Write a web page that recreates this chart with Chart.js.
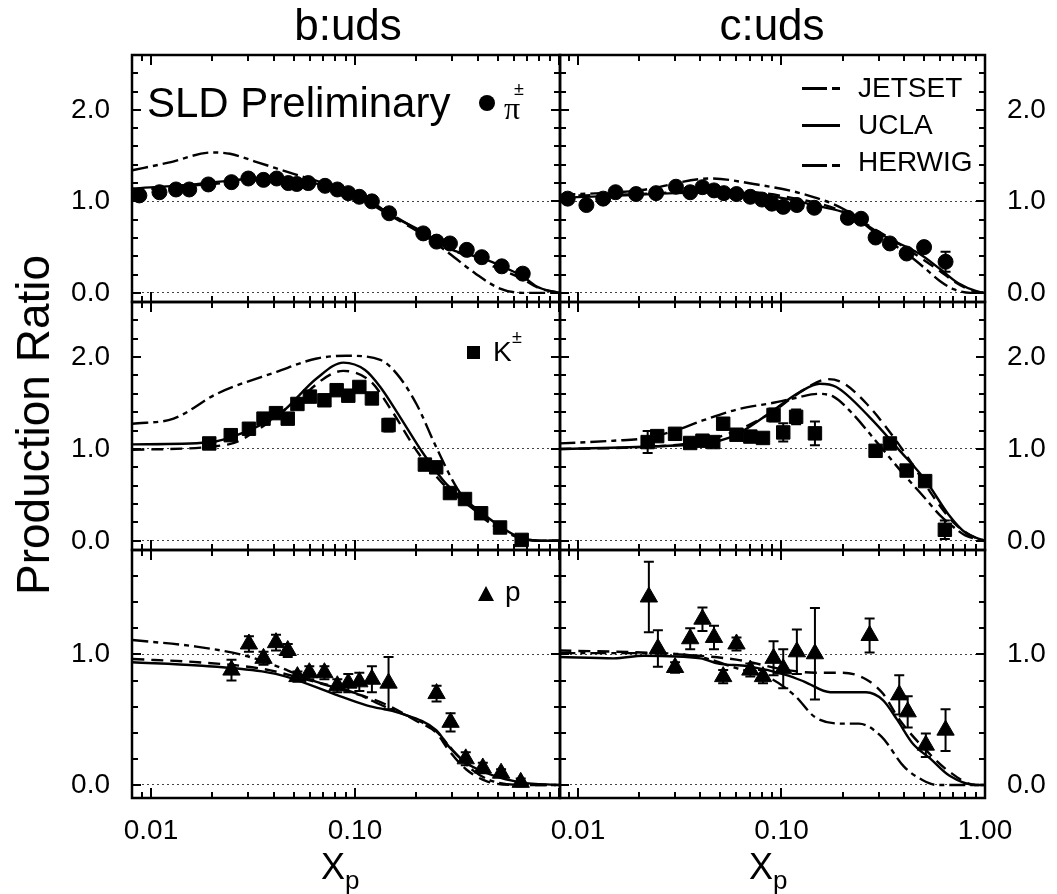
<!DOCTYPE html>
<html>
<head>
<meta charset="utf-8">
<script src="https://cdn.jsdelivr.net/npm/chart.js@4.4.0/dist/chart.umd.min.js"></script>
<style>
  body { margin: 0; background: #fff; }
  #wrap { position: relative; width: 1057px; height: 894px; overflow: hidden;
          font-family: 'Liberation Sans', Arial, sans-serif; color: #000; }
  #wrap canvas { position: absolute; left: 0; top: 0; }
  .txt { position: absolute; white-space: nowrap; line-height: 1; }
  .mk { position: absolute; background: #000; }
</style>
</head>
<body>
<div id="wrap">
  <canvas id="c0" width="1057" height="894"></canvas>
  <canvas id="c1" width="1057" height="894"></canvas>
  <canvas id="c2" width="1057" height="894"></canvas>
  <canvas id="c3" width="1057" height="894"></canvas>
  <canvas id="c4" width="1057" height="894"></canvas>
  <canvas id="c5" width="1057" height="894"></canvas>

  <div class="txt" style="left:348px;top:3px;font-size:44px;transform:translateX(-50%)">b:uds</div>
  <div class="txt" style="left:772px;top:3px;font-size:44px;transform:translateX(-50%)">c:uds</div>
  <div class="txt" style="left:33px;top:425px;font-size:46px;transform:translate(-50%,-50%) rotate(-90deg)">Production Ratio</div>
  <div class="txt" style="left:321px;top:849px;font-size:36px">X<span style="font-size:26px;position:relative;top:10px">p</span></div>
  <div class="txt" style="left:749px;top:849px;font-size:36px">X<span style="font-size:26px;position:relative;top:10px">p</span></div>

  <!-- panel labels -->
  <div class="txt" style="left:147px;top:82px;font-size:42px">SLD Preliminary</div>
  <div class="mk" style="left:479px;top:95px;width:16px;height:16px;border-radius:50%"></div>
  <div class="txt" style="left:504px;top:92px;font-size:32px;font-family:'Liberation Serif',serif">&pi;</div>
  <div class="txt" style="left:514px;top:80px;font-size:18px">&plusmn;</div>

  <div class="mk" style="left:467px;top:346px;width:13px;height:13px"></div>
  <div class="txt" style="left:493px;top:338px;font-size:28px">K</div>
  <div class="txt" style="left:512px;top:328px;font-size:18px">&plusmn;</div>

  <div style="position:absolute;left:478px;top:586px;width:0;height:0;border-left:8.5px solid transparent;border-right:8.5px solid transparent;border-bottom:15px solid #000"></div>
  <div class="txt" style="left:505px;top:578px;font-size:28px">p</div>

  <!-- legend -->
  <div class="mk" style="left:802px;top:87px;width:25px;height:3px"></div>
  <div class="mk" style="left:832px;top:87px;width:8px;height:3px"></div>
  <div class="txt" style="left:858px;top:74px;font-size:28px">JETSET</div>
  <div class="mk" style="left:802px;top:124px;width:38px;height:3px"></div>
  <div class="txt" style="left:858px;top:111px;font-size:28px">UCLA</div>
  <div class="mk" style="left:802px;top:164px;width:25px;height:3px"></div>
  <div class="mk" style="left:832px;top:164px;width:8px;height:3px"></div>
  <div class="txt" style="left:858px;top:148px;font-size:28px">HERWIG</div>
</div>

<script>
// ---- measured points: pi, K, p in b and c events ----
const xPiB = [0.00877,0.0110,0.01326,0.0154,0.0191,0.0248,0.0300,0.0356,0.0413,0.0471,0.0518,0.0590,0.0713,0.0819,0.0927,0.105,0.121,0.147,0.216,0.251,0.292,0.353,0.418,0.524,0.664];
const yPiB = [1.065,1.10,1.13,1.13,1.185,1.21,1.25,1.235,1.25,1.20,1.19,1.20,1.17,1.13,1.09,1.05,1.00,0.87,0.65,0.56,0.54,0.47,0.39,0.29,0.21];
const ePiB = [0.02,0.02,0.02,0.02,0.02,0.02,0.02,0.02,0.02,0.02,0.02,0.02,0.02,0.02,0.02,0.02,0.02,0.02,0.02,0.02,0.02,0.02,0.02,0.03,0.03];

const xPiC = [0.0089,0.0110,0.0133,0.0153,0.0193,0.0242,0.0303,0.0356,0.0409,0.0466,0.0521,0.0601,0.0703,0.0802,0.0897,0.102,0.119,0.145,0.212,0.246,0.290,0.341,0.412,0.502,0.640];
const yPiC = [1.03,0.96,1.03,1.10,1.08,1.09,1.16,1.10,1.155,1.12,1.09,1.08,1.05,1.02,0.975,0.94,0.96,0.93,0.82,0.81,0.605,0.54,0.43,0.50,0.34];
const ePiC = [0.02,0.02,0.02,0.02,0.02,0.02,0.02,0.02,0.02,0.02,0.02,0.02,0.02,0.02,0.02,0.02,0.02,0.02,0.03,0.03,0.03,0.03,0.04,0.05,0.11];

const xKB = [0.0193,0.0246,0.0302,0.0356,0.0410,0.0468,0.0522,0.0601,0.0708,0.0813,0.0927,0.105,0.121,0.146,0.220,0.250,0.292,0.346,0.415,0.514,0.656];
const yKB = [1.06,1.15,1.22,1.33,1.39,1.33,1.49,1.57,1.53,1.64,1.58,1.675,1.55,1.26,0.83,0.80,0.52,0.455,0.30,0.145,0.01];
const eKB = [0.04,0.04,0.04,0.04,0.04,0.04,0.04,0.04,0.04,0.04,0.04,0.04,0.04,0.07,0.03,0.03,0.03,0.03,0.03,0.03,0.03];

const xKC = [0.0220,0.0245,0.0300,0.0356,0.0409,0.0462,0.0517,0.0601,0.0703,0.0811,0.0914,0.102,0.118,0.146,0.290,0.341,0.412,0.508,0.635];
const yKC = [1.075,1.14,1.165,1.065,1.09,1.075,1.275,1.155,1.135,1.12,1.37,1.18,1.35,1.17,0.98,1.06,0.765,0.65,0.12];
const eKC = [0.12,0.04,0.04,0.04,0.04,0.04,0.06,0.04,0.04,0.04,0.07,0.10,0.08,0.13,0.05,0.05,0.05,0.05,0.10];

const xPB = [0.0248,0.0302,0.0356,0.0410,0.0468,0.0522,0.0597,0.0708,0.0819,0.0927,0.105,0.121,0.146,0.251,0.294,0.349,0.423,0.520,0.649];
const yPB = [0.88,1.08,0.97,1.09,1.03,0.83,0.86,0.86,0.76,0.78,0.79,0.81,0.78,0.70,0.48,0.20,0.13,0.09,0.02];
const ePB = [0.08,0.06,0.05,0.06,0.05,0.04,0.05,0.05,0.05,0.07,0.07,0.10,0.20,0.06,0.07,0.05,0.04,0.03,0.03];

const xPC = [0.0223,0.0247,0.0300,0.0356,0.0409,0.0466,0.0517,0.0601,0.0703,0.0811,0.0914,0.102,0.119,0.146,0.271,0.379,0.417,0.512,0.640];
const yPC = [1.44,1.045,0.90,1.12,1.27,1.13,0.83,1.08,0.88,0.83,0.97,0.89,1.02,1.005,1.145,0.69,0.56,0.305,0.42];
const ePC = [0.27,0.14,0.04,0.08,0.09,0.09,0.05,0.05,0.05,0.05,0.13,0.15,0.17,0.35,0.13,0.15,0.12,0.09,0.16];

// ---- model curves [xp, ratio] ----
const jetsetPiB = [[0.0081,1.34],[0.012,1.42],[0.0202,1.535],[0.0244,1.52],[0.033,1.43],[0.05,1.3],[0.07,1.2],[0.1,1.06],[0.15,0.86],[0.2,0.69],[0.29,0.43],[0.39,0.21],[0.51,0.05],[0.66,0.0],[1.01,0.0]];
const uclaPiB   = [[0.0081,1.14],[0.015,1.18],[0.025,1.23],[0.04,1.26],[0.06,1.21],[0.09,1.1],[0.12,1.0],[0.147,0.86],[0.208,0.685],[0.3,0.47],[0.42,0.38],[0.55,0.27],[0.664,0.18],[0.778,0.07],[0.9,0.02],[1.01,0.0]];
const herwigPiB = [[0.0081,1.12],[0.02,1.19],[0.04,1.24],[0.06,1.2],[0.1,1.06],[0.15,0.84],[0.2,0.68],[0.3,0.47],[0.4,0.36],[0.5,0.27],[0.65,0.16],[0.8,0.05],[1.01,0.0]];

const jetsetPiC = [[0.0081,1.07],[0.02,1.12],[0.0449,1.25],[0.073,1.19],[0.128,1.08],[0.208,0.9],[0.3,0.63],[0.4,0.45],[0.5,0.28],[0.6,0.13],[0.7,0.04],[0.85,0.0],[1.0,0.0]];
const uclaPiC   = [[0.0081,1.04],[0.015,1.06],[0.03,1.09],[0.05,1.1],[0.08,1.07],[0.105,1.03],[0.15,0.95],[0.208,0.87],[0.326,0.61],[0.474,0.43],[0.61,0.25],[0.74,0.105],[0.93,0.01],[1.0,0.0]];
const herwigPiC = [[0.0081,1.06],[0.02,1.08],[0.05,1.12],[0.1,1.06],[0.2,0.89],[0.3,0.67],[0.4,0.5],[0.5,0.36],[0.6,0.24],[0.7,0.13],[0.85,0.03],[1.0,0.0]];

const jetsetKB = [[0.0081,1.275],[0.0129,1.33],[0.021,1.6],[0.0413,1.84],[0.065,1.985],[0.091,2.015],[0.133,1.97],[0.16,1.82],[0.2,1.49],[0.25,1.02],[0.315,0.58],[0.4,0.3],[0.5,0.14],[0.65,0.03],[0.85,0.0],[1.01,0.0]];
const uclaKB   = [[0.0081,1.05],[0.019,1.07],[0.03,1.2],[0.043,1.385],[0.065,1.77],[0.0877,1.94],[0.112,1.86],[0.133,1.675],[0.166,1.35],[0.216,0.95],[0.28,0.62],[0.41,0.32],[0.52,0.15],[0.65,0.03],[0.82,0.0],[1.01,0.0]];
const herwigKB = [[0.0081,0.99],[0.024,1.05],[0.034,1.22],[0.05,1.5],[0.0877,1.85],[0.12,1.73],[0.15,1.43],[0.205,0.95],[0.27,0.62],[0.4,0.31],[0.52,0.14],[0.65,0.03],[0.82,0.0],[1.01,0.0]];

const jetsetKC = [[0.0081,1.06],[0.015,1.09],[0.022,1.12],[0.03,1.2],[0.041,1.31],[0.063,1.44],[0.09,1.5],[0.12,1.56],[0.15,1.6],[0.18,1.57],[0.22,1.4],[0.3,1.05],[0.4,0.72],[0.5,0.48],[0.6,0.28],[0.7,0.15],[0.8,0.06],[1.0,0.0]];
const uclaKC   = [[0.0081,1.0],[0.024,1.03],[0.045,1.07],[0.055,1.12],[0.065,1.2],[0.091,1.42],[0.123,1.62],[0.154,1.71],[0.186,1.675],[0.27,1.35],[0.38,0.985],[0.51,0.66],[0.66,0.29],[0.8,0.09],[1.0,0.0]];
const herwigKC = [[0.0081,1.0],[0.02,1.02],[0.04,1.08],[0.06,1.2],[0.09,1.4],[0.12,1.6],[0.17,1.76],[0.2,1.72],[0.26,1.5],[0.35,1.15],[0.45,0.8],[0.55,0.5],[0.7,0.2],[0.85,0.06],[1.0,0.0]];

const jetsetPB = [[0.0081,1.11],[0.0167,1.06],[0.029,0.99],[0.043,0.9],[0.062,0.8],[0.098,0.71],[0.14,0.6],[0.2,0.5],[0.25,0.41],[0.3,0.27],[0.38,0.11],[0.47,0.03],[0.7,0.0],[1.01,0.0]];
const uclaPB   = [[0.0081,0.94],[0.017,0.915],[0.035,0.87],[0.046,0.83],[0.078,0.7],[0.114,0.61],[0.166,0.55],[0.25,0.42],[0.29,0.29],[0.35,0.17],[0.47,0.075],[0.65,0.02],[1.01,0.0]];
const herwigPB = [[0.0081,0.965],[0.017,0.94],[0.035,0.89],[0.054,0.82],[0.078,0.75],[0.14,0.62],[0.2,0.49],[0.25,0.4],[0.29,0.26],[0.35,0.12],[0.44,0.03],[0.6,0.0],[1.01,0.0]];

const jetsetPC = [[0.0081,1.01],[0.024,1.01],[0.04,0.98],[0.06,0.895],[0.09,0.81],[0.117,0.68],[0.146,0.52],[0.2,0.47],[0.24,0.47],[0.31,0.37],[0.4,0.14],[0.49,0.04],[0.58,0.0],[1.0,0.0]];
const uclaPC   = [[0.0081,0.98],[0.015,0.97],[0.021,0.99],[0.04,0.97],[0.049,0.93],[0.068,0.91],[0.107,0.84],[0.13,0.79],[0.174,0.71],[0.26,0.71],[0.315,0.65],[0.37,0.5],[0.44,0.32],[0.54,0.2],[0.67,0.07],[0.9,0.0],[1.0,0.0]];
const herwigPC = [[0.0081,1.03],[0.024,1.01],[0.06,0.96],[0.107,0.88],[0.146,0.86],[0.2,0.86],[0.26,0.81],[0.315,0.7],[0.38,0.5],[0.51,0.27],[0.67,0.1],[0.9,0.0],[1.0,0.0]];

// tick labels
const yTicksTall = [0, 1, 2];
const yTicksShort = [0, 1];
const xTicksLeft = [0.01, 0.1];
const xTicksRight = [0.01, 0.1, 1];

const FONT = "'Liberation Sans', Arial, sans-serif";
const W = 1057, H = 894;
const cols = [[132, 560], [560, 985]];
const rows = [[55, 302], [302, 550], [550, 798]];
const xRange = [[0.00807, 1.011], [0.00816, 1.0]];

function pts(xs, ys) { return xs.map((x, i) => ({ x: x, y: ys[i] })); }
function pairs(p) { return p.map(d => ({ x: d[0], y: d[1] })); }

// frame, inward ticks and error bars
const framePlugin = {
  id: 'frame',
  afterDatasetsDraw(chart) {
    const ctx = chart.ctx, a = chart.chartArea;
    const xs = chart.scales.x, ys = chart.scales.y;
    const ds = chart.data.datasets[3];
    ctx.save();
    ctx.strokeStyle = '#000';
    ctx.lineWidth = 2;
    ds.data.forEach((p, i) => {
      const e = ds.err[i];
      const px = xs.getPixelForValue(p.x);
      const t = ys.getPixelForValue(p.y + e), b = ys.getPixelForValue(p.y - e);
      ctx.beginPath();
      ctx.moveTo(px, t); ctx.lineTo(px, b);
      ctx.moveTo(px - 5, t); ctx.lineTo(px + 5, t);
      ctx.moveTo(px - 5, b); ctx.lineTo(px + 5, b);
      ctx.stroke();
    });
    // y ticks every 0.2
    ctx.beginPath();
    for (let k = 0; k * 0.2 <= ys.max + 1e-9; k++) {
      const v = k * 0.2;
      const py = Math.round(ys.getPixelForValue(v));
      const len = (k % 5 === 0) ? 9 : 6;
      ctx.moveTo(a.left, py); ctx.lineTo(a.left + len, py);
      ctx.moveTo(a.right, py); ctx.lineTo(a.right - len, py);
    }
    // log x ticks
    [0.001, 0.01, 0.1, 1].forEach(d => {
      for (let m = 1; m <= 9; m++) {
        const v = m * d;
        if (v < xs.min || v > xs.max) continue;
        const px = Math.round(xs.getPixelForValue(v));
        const len = (m === 1) ? 10 : 6;
        ctx.moveTo(px, a.bottom); ctx.lineTo(px, a.bottom - len);
        ctx.moveTo(px, a.top); ctx.lineTo(px, a.top + len);
      }
    });
    ctx.stroke();
    ctx.lineWidth = 2.5;
    ctx.strokeRect(a.left, a.top, a.right - a.left, a.bottom - a.top);
    ctx.restore();
  }
};

function curve(data, dash) {
  return {
    data: pairs(data), showLine: true, borderColor: '#000', borderWidth: 2.4,
    borderDash: dash, pointRadius: 0, cubicInterpolationMode: 'monotone', fill: false
  };
}

function makePanel(id, col, row, data, curves, marker, radius) {
  const bottomRow = row === 2;
  const yTicks = bottomRow ? yTicksShort : yTicksTall;
  const ymax = bottomRow ? 1.8 : 2.6;
  const pad = {
    left: col === 0 ? cols[0][0] - 60 : cols[1][0],
    right: col === 0 ? W - cols[0][1] : W - cols[1][1] - 60,
    top: rows[row][0],
    bottom: bottomRow ? H - rows[row][1] - 60 : H - rows[row][1]
  };
  new Chart(document.getElementById(id), {
    type: 'scatter',
    data: {
      datasets: [
        curve(curves[0], [16, 5, 5, 5]),
        curve(curves[1], []),
        curve(curves[2], [12, 7]),
        {
          data: pts(data[0], data[1]), err: data[2], showLine: false,
          pointStyle: marker, pointRadius: radius, backgroundColor: '#000', borderColor: '#000', borderWidth: 1
        }
      ]
    },
    options: {
      responsive: false, animation: false, devicePixelRatio: 1,
      layout: { padding: pad, autoPadding: false },
      plugins: { legend: { display: false }, tooltip: { enabled: false } },
      scales: {
        x: {
          type: 'logarithmic', min: xRange[col][0], max: xRange[col][1],
          display: bottomRow,
          grid: { display: false }, border: { display: false },
          afterBuildTicks: s => { s.ticks = (col === 0 ? xTicksLeft : xTicksRight).map(v => ({ value: v })); },
          afterFit: s => { s.height = bottomRow ? 60 : 0; },
          ticks: { color: '#000', font: { family: FONT, size: 28 }, padding: 8, maxRotation: 0,
                   autoSkip: false, callback: v => Number(v).toFixed(2) }
        },
        y: {
          type: 'linear', min: -0.1, max: ymax, position: col === 0 ? 'left' : 'right',
          grid: { drawTicks: false, lineWidth: 1,
                  color: c => (c.tick && c.tick.value < 1.5) ? '#444' : 'rgba(0,0,0,0)' },
          border: { display: false, dash: [2, 3] },
          afterBuildTicks: s => { s.ticks = yTicks.map(v => ({ value: v })); },
          afterFit: s => { s.width = 60; },
          ticks: { color: '#000', font: { family: FONT, size: 28 }, padding: 22,
                   callback: v => Number(v).toFixed(1) }
        }
      }
    },
    plugins: [framePlugin]
  });
}

makePanel('c0', 0, 0, [xPiB, yPiB, ePiB], [jetsetPiB, uclaPiB, herwigPiB], 'circle', 7.5);
makePanel('c1', 1, 0, [xPiC, yPiC, ePiC], [jetsetPiC, uclaPiC, herwigPiC], 'circle', 7.5);
makePanel('c2', 0, 1, [xKB, yKB, eKB], [jetsetKB, uclaKB, herwigKB], 'rect', 9.5);
makePanel('c3', 1, 1, [xKC, yKC, eKC], [jetsetKC, uclaKC, herwigKC], 'rect', 9.5);
makePanel('c4', 0, 2, [xPB, yPB, ePB], [jetsetPB, uclaPB, herwigPB], 'triangle', 10);
makePanel('c5', 1, 2, [xPC, yPC, ePC], [jetsetPC, uclaPC, herwigPC], 'triangle', 10);
</script>
</body>
</html>
